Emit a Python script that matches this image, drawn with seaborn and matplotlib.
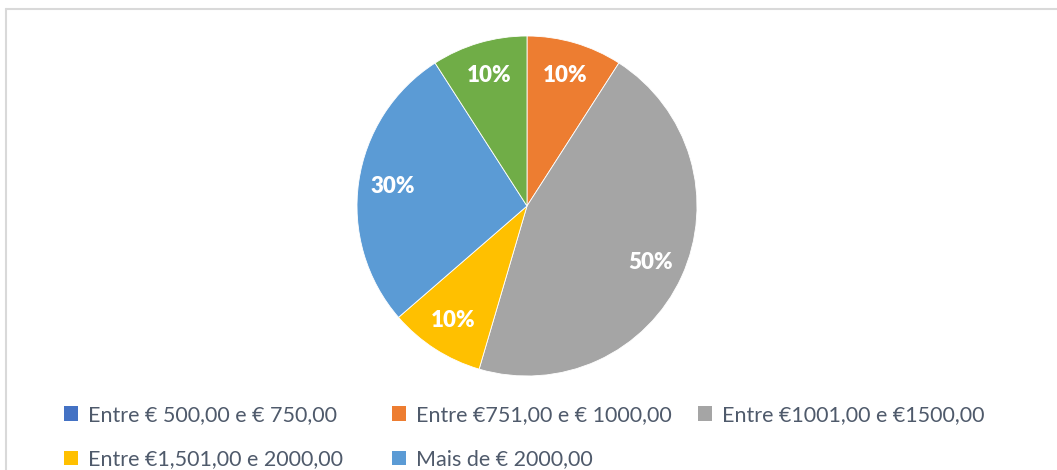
import matplotlib
matplotlib.use("Agg")
import matplotlib.pyplot as plt
import seaborn as sns
from matplotlib.lines import Line2D
from matplotlib.patches import Patch

categories = ["Entre € 500,00 e € 750,00", "Entre €751,00 e € 1000,00",
              "Entre €1001,00 e €1500,00", "Entre €1,501,00 e 2000,00",
              "Mais de € 2000,00", "Outro"]
values = [0, 10, 50, 10, 30, 10]
colors = ["#4472C4", "#ED7D31", "#A5A5A5", "#FFC000", "#5B9BD5", "#70AD47"]
legend_columns = [[0, 3], [1, 4], [2]]

sns.set_theme(style="white")
plt.rcParams["font.family"] = ["Lato", "DejaVu Sans"]

W, H = 1057, 470
fig = plt.figure(figsize=(W / 100, H / 100), dpi=100)

cx, cy, r = 527, 206, 170
ax = fig.add_axes([(cx - r) / W, (H - cy - r) / H, 2 * r / W, 2 * r / H])

labels = [f"{v}%" if v > 0 else "" for v in values]
wedges, texts = ax.pie(values, colors=colors, startangle=90, counterclock=False,
                       labels=labels, labeldistance=0.8,
                       wedgeprops=dict(edgecolor="white", linewidth=0.6),
                       textprops=dict(color="white", fontsize=16, fontweight="heavy"))
for t in texts:
    t.set_horizontalalignment("center")
    t.set_verticalalignment("center")
ax.set_aspect("equal")
ax.set_xlim(-1, 1)
ax.set_ylim(-1, 1)
ax.axis("off")

col_x = [64, 392, 698]
for x, idxs in zip(col_x, legend_columns):
    handles = [Patch(facecolor=colors[i], edgecolor="none") for i in idxs]
    leg = fig.legend(handles, [categories[i] for i in idxs], ncol=1,
                     loc="upper left", bbox_to_anchor=(x / W, 1 - 405 / H),
                     frameon=False, fontsize=15.5, handlelength=0.65, handleheight=0.65,
                     handletextpad=0.45, labelspacing=1.14,
                     borderaxespad=0, borderpad=0)
    for t in leg.get_texts():
        t.set_color("#4F5A6B")

# frame border (top and left visible)
bc = "#D9D9D9"
fig.add_artist(Line2D([5.5 / W, 1.0], [1 - 8.5 / H, 1 - 8.5 / H], color=bc, lw=1.5,
                      transform=fig.transFigure))
fig.add_artist(Line2D([5.5 / W, 5.5 / W], [0, 1 - 8.5 / H], color=bc, lw=1.5,
                      transform=fig.transFigure))

fig.savefig("out.png", dpi=100, facecolor="white")
